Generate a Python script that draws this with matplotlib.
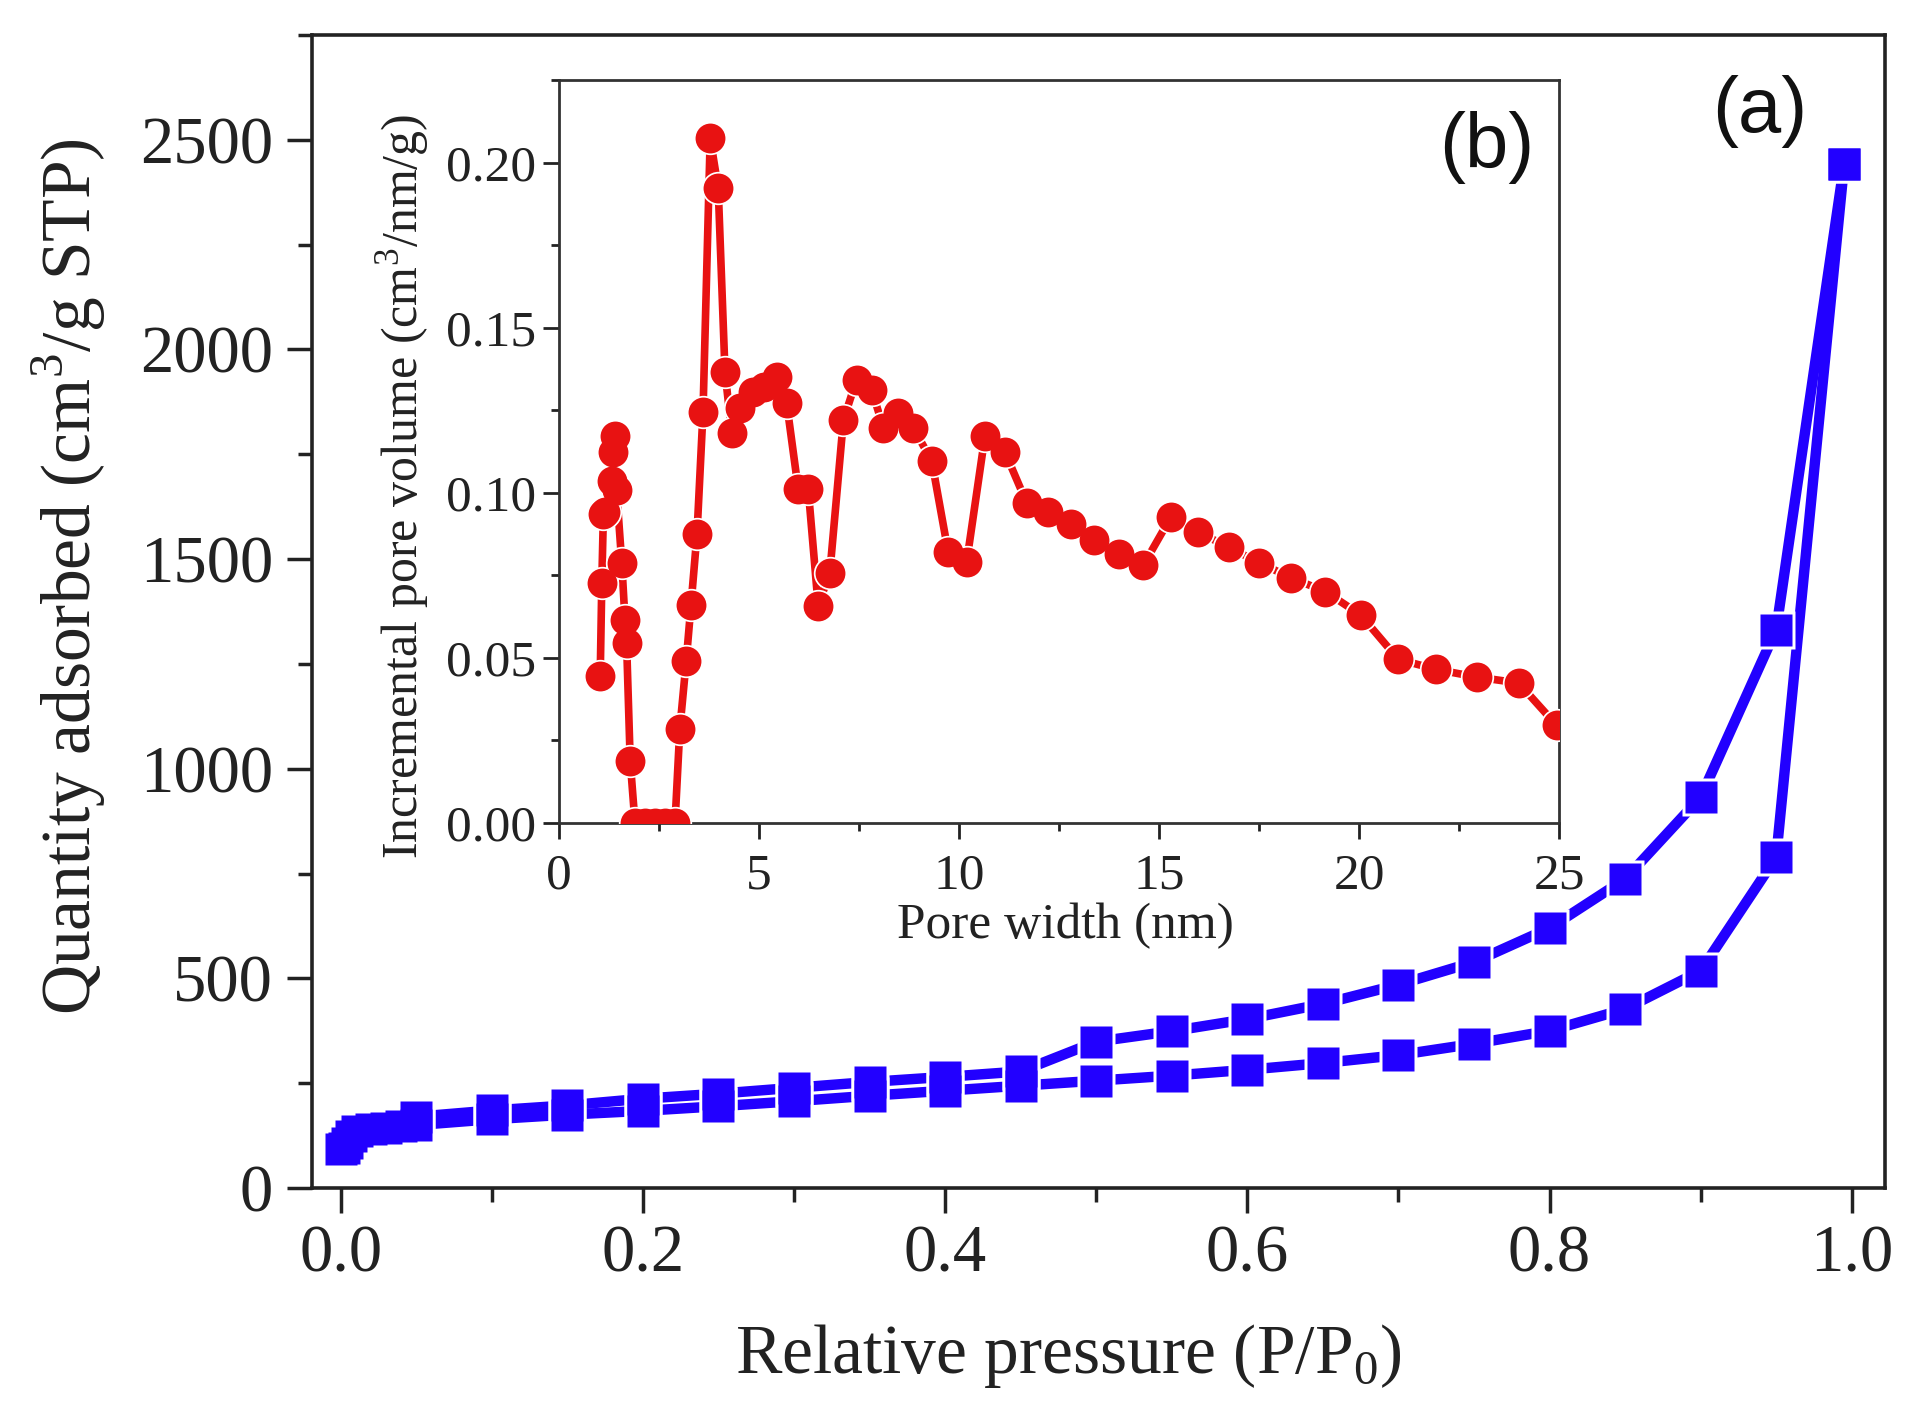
import matplotlib
matplotlib.use("Agg")
import matplotlib.pyplot as plt
from matplotlib.ticker import MultipleLocator, FormatStrFormatter

# --- Fonts ---
plt.rcParams['font.family'] = 'Liberation Serif'
plt.rcParams['mathtext.fontset'] = 'custom'
plt.rcParams['mathtext.rm'] = 'Liberation Serif'

# --- Isotherm data (main panel) ---
p_ads = [0.0005, 0.002, 0.004, 0.007, 0.011, 0.02, 0.03, 0.04, 0.05,
         0.1, 0.15, 0.2, 0.25, 0.3, 0.35, 0.4, 0.45, 0.5, 0.55, 0.6,
         0.65, 0.7, 0.75, 0.8, 0.85, 0.9, 0.95, 0.995]
q_ads = [92, 96, 108, 124, 135, 140, 144, 147, 150,
         164, 175, 184, 195, 207, 220, 232, 244, 256, 268, 282,
         298, 317, 344, 375, 427, 518, 789, 2443]

p_des = [0.995, 0.95, 0.9, 0.85, 0.8, 0.75, 0.7, 0.65, 0.6, 0.55,
         0.5, 0.45, 0.4, 0.35, 0.3, 0.25, 0.2, 0.15, 0.1, 0.05]
q_des = [2443, 1332, 932, 737, 620, 539, 485, 439, 403, 374,
         349, 278, 265, 253, 239, 225, 213, 197, 185, 170]

# --- Pore size distribution (inset) ---
pore_w = [1.03, 1.07, 1.11, 1.15, 1.32, 1.36, 1.40, 1.44, 1.57, 1.65,
          1.69, 1.78, 1.90, 2.15, 2.40, 2.65, 2.90, 3.02, 3.18, 3.30,
          3.45, 3.60, 3.78, 3.98, 4.15, 4.32, 4.52, 4.86, 5.12, 5.44,
          5.69, 5.98, 6.23, 6.48, 6.77, 7.11, 7.44, 7.82, 8.11, 8.48,
          8.86, 9.32, 9.73, 10.19, 10.65, 11.15, 11.69, 12.22, 12.80, 13.37,
          13.99, 14.61, 15.30, 15.98, 16.74, 17.51, 18.31, 19.16, 20.04, 20.98,
          21.93, 22.94, 23.99, 24.94]
pore_v = [0.0444, 0.0726, 0.0937, 0.0942, 0.1037, 0.1123, 0.1173, 0.1007, 0.0786, 0.0615,
          0.0545, 0.0188, 0.0, 0.0, 0.0, 0.0, 0.0, 0.0284, 0.049, 0.066,
          0.0875, 0.1244, 0.2073, 0.1923, 0.1366, 0.118, 0.1258, 0.1304, 0.132, 0.135,
          0.1273, 0.1012, 0.1012, 0.0658, 0.0758, 0.122, 0.1343, 0.131, 0.1197, 0.1243,
          0.1197, 0.1096, 0.082, 0.0789, 0.1173, 0.1123, 0.0970, 0.0942, 0.0905, 0.0858,
          0.0815, 0.0781, 0.0927, 0.0881, 0.0835, 0.0788, 0.0742, 0.0701, 0.063, 0.0496,
          0.0465, 0.0442, 0.0424, 0.0296]

blue = '#2200FF'
red = '#E81212'
W, H = 1926, 1424

fig = plt.figure(figsize=(W / 100, H / 100), dpi=100)

# --- Main axes (a) ---
ax = fig.add_axes([312 / W, 1 - 1188 / H, (1885 - 312) / W, (1188 - 35) / H])
for p, q in [(p_ads, q_ads), (p_des, q_des)]:
    ax.plot(p, q, color=blue, lw=7.5, solid_capstyle='butt', zorder=2)
for p, q in [(p_ads, q_ads), (p_des, q_des)]:
    ax.plot(p, q, ls='none', marker='s', ms=27.5, mfc='white', mec='none', zorder=3)
for p, q in [(p_ads, q_ads), (p_des, q_des)]:
    ax.plot(p, q, ls='none', marker='s', ms=23.5, mfc=blue, mec='none', zorder=4)

ax.set_xlim(-0.019, 1.022)
ax.set_ylim(0, 2750)
ax.xaxis.set_major_locator(MultipleLocator(0.2))
ax.xaxis.set_minor_locator(MultipleLocator(0.1))
ax.xaxis.set_major_formatter(FormatStrFormatter('%.1f'))
ax.yaxis.set_major_locator(MultipleLocator(500))
ax.yaxis.set_minor_locator(MultipleLocator(250))
ax.tick_params(which='both', direction='out', width=2.5, colors='#222222',
               labelcolor='#222222')
ax.tick_params(which='major', length=18, labelsize=48)
ax.tick_params(which='minor', length=10)
ax.tick_params(axis='x', pad=8)
ax.tick_params(axis='y', pad=10)
for s in ax.spines.values():
    s.set_linewidth(2.6)
    s.set_color('#222222')

ax.set_xlabel('Relative pressure (P/P$_{\\mathregular{0}}$)', fontsize=50, color='#222222')
ax.xaxis.set_label_coords((1068 - 312) / 1573, (1188 - 1322) / 1153)
ax.set_ylabel('Quantity adsorbed (cm$^{\\mathregular{3}}$/g STP)', fontsize=50, color='#222222')
ax.yaxis.set_label_coords((108 - 312) / 1573, (1188 - 577) / 1153)

fig.text(1760 / W, 1 - 112 / H, '(a)', family='Liberation Sans', fontsize=56,
         ha='center', va='center', color='#111111')

# --- Inset axes (b) ---
ins = fig.add_axes([559 / W, 1 - 823 / H, 1000 / W, 743 / H])
ins.plot(pore_w, pore_v, color=red, lw=5.5, zorder=2, clip_on=True)
ins.plot(pore_w, pore_v, ls='none', marker='o', ms=24, mfc='white', mec='none', zorder=3)
ins.plot(pore_w, pore_v, ls='none', marker='o', ms=21.5, mfc=red, mec='none', zorder=4)

ins.set_xlim(0, 25)
ins.set_ylim(0, 0.225)
ins.xaxis.set_major_locator(MultipleLocator(5))
ins.xaxis.set_minor_locator(MultipleLocator(2.5))
ins.yaxis.set_major_locator(MultipleLocator(0.05))
ins.yaxis.set_minor_locator(MultipleLocator(0.025))
ins.yaxis.set_major_formatter(FormatStrFormatter('%.2f'))
ins.tick_params(which='both', direction='out', width=2, colors='#222222',
                labelcolor='#222222')
ins.tick_params(which='major', length=11.5, labelsize=37, pad=5)
ins.tick_params(which='minor', length=6)
ins.tick_params(axis='x', pad=10)
for s in ins.spines.values():
    s.set_linewidth(2)
    s.set_color('#333333')

ins.set_xlabel('Pore width (nm)', fontsize=37, color='#222222')
ins.xaxis.set_label_coords((1065 - 559) / 1000, (823 - 903) / 743)
ins.set_ylabel('Incremental pore volume (cm$^{\\mathregular{3}}$/nm/g)', fontsize=36,
               color='#222222')
ins.yaxis.set_label_coords((432 - 559) / 1000, (823 - 486) / 743)

fig.text(1487 / W, 1 - 148 / H, '(b)', family='Liberation Sans', fontsize=56,
         ha='center', va='center', color='#111111')

fig.savefig('out.png', dpi=100, facecolor='white')
